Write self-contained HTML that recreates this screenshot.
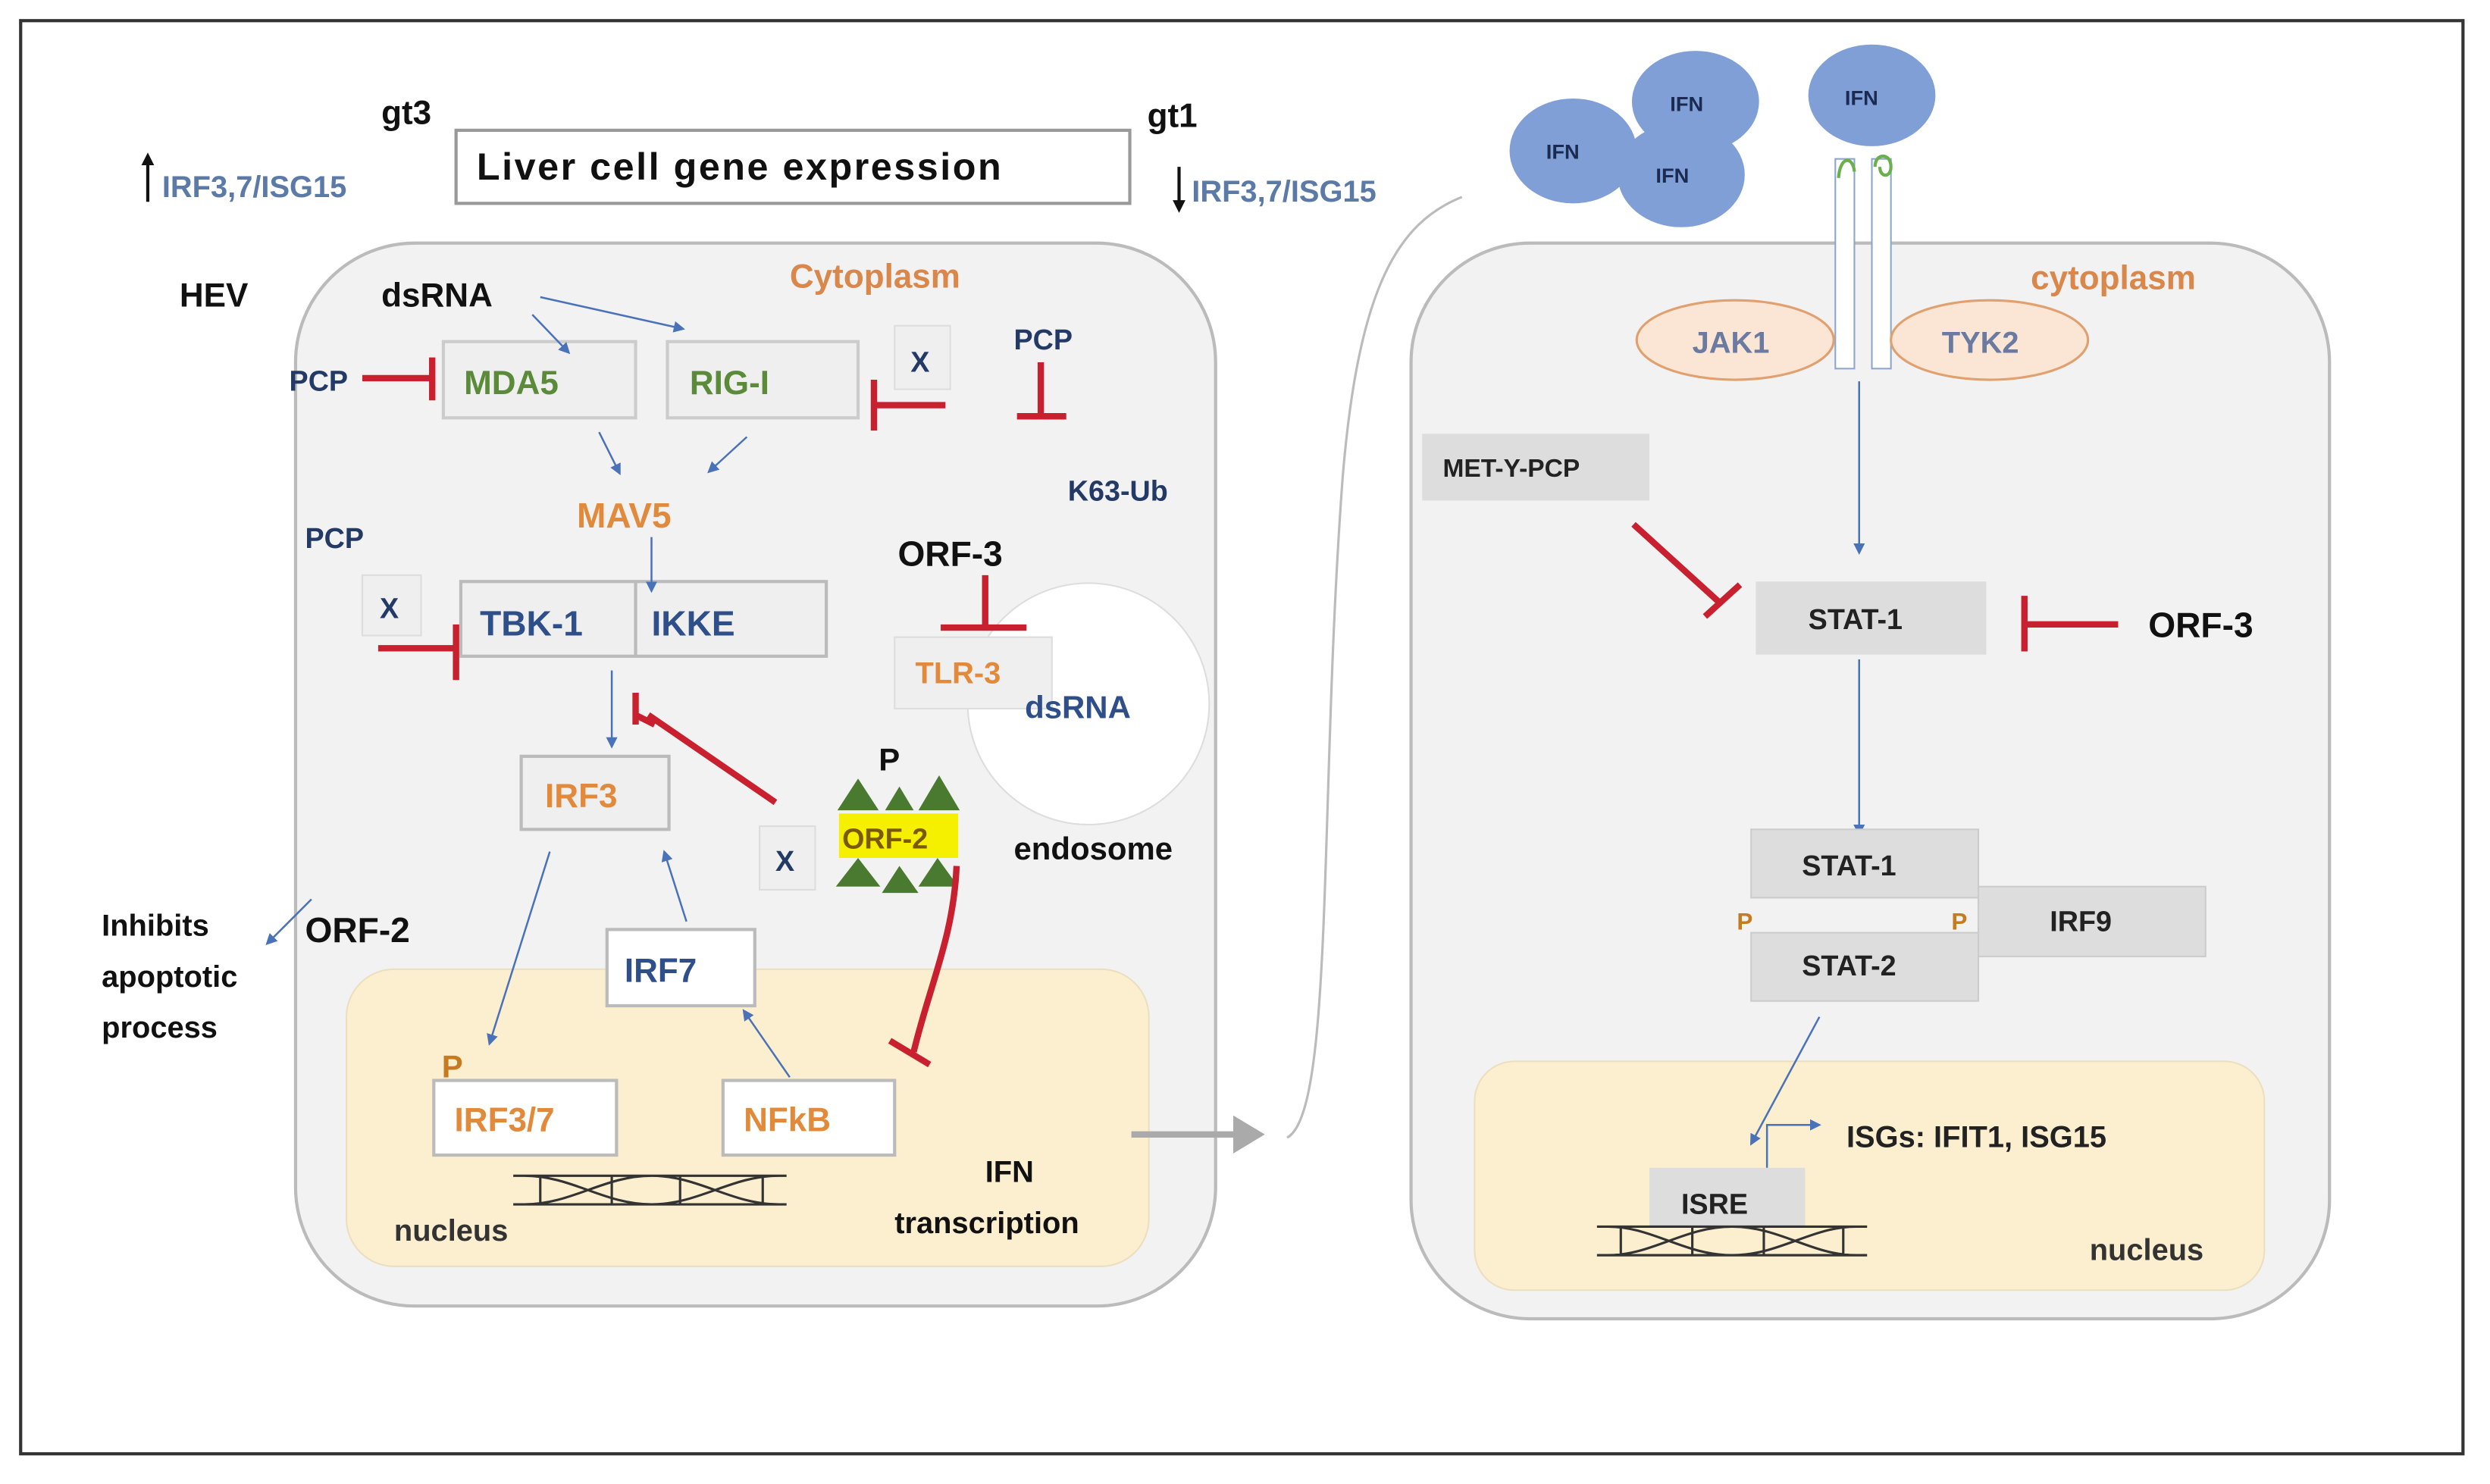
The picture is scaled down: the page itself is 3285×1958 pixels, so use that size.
<!DOCTYPE html>
<html><head><meta charset="utf-8"><style>
html,body{margin:0;padding:0;background:#fff}
svg{display:block}
text{font-family:"Liberation Sans",sans-serif;font-weight:bold}
</style></head><body>
<svg width="3285" height="1958" viewBox="0 0 1567 934" preserveAspectRatio="none" xmlns="http://www.w3.org/2000/svg">
<defs>
<marker id="ab" markerWidth="6" markerHeight="6" refX="5" refY="3" orient="auto"><path d="M0,0 L6,3 L0,6 z" fill="#4a72b8"/></marker>
<marker id="ag" markerWidth="5" markerHeight="6" refX="4" refY="3" orient="auto"><path d="M0,0 L5,3 L0,6 z" fill="#aaa"/></marker>
</defs>
<rect x="13" y="13" width="1537" height="902" fill="#fff" stroke="#333" stroke-width="2"/>
<!-- top -->
<rect x="287" y="82" width="424" height="46" fill="#fff" stroke="#999" stroke-width="2"/>
<text x="300" y="113" font-size="24" fill="#111" textLength="330">Liver cell gene expression</text>
<text x="240" y="78" font-size="21" fill="#111">gt3</text>
<text x="722" y="80" font-size="21" fill="#111">gt1</text>
<line x1="93" y1="127" x2="93" y2="102" stroke="#111" stroke-width="2"/><path d="M89,104 L93,96 L97,104z" fill="#111"/>
<text x="102" y="124" font-size="19" fill="#5b7aa8" font-weight="normal">IRF3,7/ISG15</text>
<line x1="742" y1="105" x2="742" y2="128" stroke="#111" stroke-width="2"/><path d="M738,126 L742,134 L746,126z" fill="#111"/>
<text x="750" y="127" font-size="19" fill="#5b7aa8" font-weight="normal">IRF3,7/ISG15</text>
<!-- left cell -->
<rect x="186" y="153" width="579" height="669" rx="75" fill="#f2f2f2" stroke="#bbb" stroke-width="2"/>
<rect x="218" y="610" width="505" height="187" rx="30" fill="#fcefcf" stroke="#eadfbf"/>
<circle cx="685" cy="443" r="76" fill="#fff" stroke="#ddd"/>
<text x="497" y="181" font-size="21" fill="#d9874a" font-weight="normal">Cytoplasm</text>
<text x="113" y="193" font-size="21" fill="#111">HEV</text>
<text x="240" y="193" font-size="21" fill="#111">dsRNA</text>
<rect x="279" y="215" width="121" height="48" fill="#efefef" stroke="#ccc" stroke-width="2"/>
<text x="292" y="248" font-size="21" fill="#5a8a3a">MDA5</text>
<rect x="420" y="215" width="120" height="48" fill="#efefef" stroke="#ccc" stroke-width="2"/>
<text x="434" y="248" font-size="21" fill="#5a8a3a">RIG-I</text>
<line x1="340" y1="187" x2="430" y2="207" stroke="#4a72b8" stroke-width="1.2" marker-end="url(#ab)"/>
<line x1="335" y1="198" x2="358" y2="222" stroke="#4a72b8" stroke-width="1.2" marker-end="url(#ab)"/>
<rect x="563" y="205" width="35" height="40" fill="#efefef" stroke="#ddd"/>
<text x="573" y="234" font-size="18" fill="#233a66">X</text>
<text x="182" y="246" font-size="18" fill="#233a66">PCP</text>
<text x="638" y="220" font-size="18" fill="#233a66">PCP</text>
<line x1="377" y1="272" x2="390" y2="298" stroke="#4a72b8" stroke-width="1.2" marker-end="url(#ab)"/>
<line x1="470" y1="275" x2="446" y2="297" stroke="#4a72b8" stroke-width="1.2" marker-end="url(#ab)"/>
<text x="363" y="332" font-size="22" fill="#e28a3c">MAV5</text>
<text x="672" y="315" font-size="18" fill="#233a66">K63-Ub</text>
<text x="192" y="345" font-size="18" fill="#233a66">PCP</text>
<rect x="228" y="362" width="37" height="38" fill="#efefef" stroke="#ddd"/>
<text x="239" y="389" font-size="18" fill="#233a66">X</text>
<rect x="290" y="366" width="230" height="47" fill="#efefef" stroke="#bbb" stroke-width="2"/>
<line x1="400" y1="366" x2="400" y2="413" stroke="#bbb" stroke-width="2"/>
<line x1="410" y1="338" x2="410" y2="372" stroke="#4a72b8" stroke-width="1.2" marker-end="url(#ab)"/>
<text x="302" y="400" font-size="22" fill="#2f4f8a">TBK-1</text>
<text x="410" y="400" font-size="22" fill="#2f4f8a">IKKE</text>
<text x="565" y="356" font-size="22" fill="#111">ORF-3</text>
<rect x="563" y="401" width="99" height="45" fill="#efefef" stroke="#ddd"/>
<text x="576" y="430" font-size="19" fill="#e28a3c">TLR-3</text>
<text x="645" y="452" font-size="20" fill="#2f4f8a" font-weight="normal">dsRNA</text>
<line x1="385" y1="422" x2="385" y2="470" stroke="#4a72b8" stroke-width="1.2" marker-end="url(#ab)"/>
<rect x="328" y="476" width="93" height="46" fill="#efefef" stroke="#bbb" stroke-width="2"/>
<text x="343" y="508" font-size="21" fill="#e28a3c">IRF3</text>
<text x="553" y="485" font-size="20" fill="#111">P</text>
<g fill="#4a7a2f">
<path d="M527,510 L540,490 L553,510z"/><path d="M557,510 L566,495 L575,510z"/><path d="M578,510 L591,488 L604,510z"/>
<path d="M526,558 L540,540 L554,558z"/><path d="M555,562 L566,545 L578,562z"/><path d="M578,558 L590,540 L603,558z"/>
</g>
<rect x="528" y="512" width="75" height="28" fill="#f5f000"/>
<text x="530" y="534" font-size="18" fill="#7a5a00">ORF-2</text>
<rect x="478" y="520" width="35" height="40" fill="#efefef" stroke="#ddd"/>
<text x="488" y="548" font-size="18" fill="#233a66">X</text>
<text x="638" y="541" font-size="20" fill="#111">endosome</text>
<text x="64" y="589" font-size="19" fill="#111">Inhibits</text>
<text x="64" y="621" font-size="19" fill="#111">apoptotic</text>
<text x="64" y="653" font-size="19" fill="#111">process</text>
<text x="192" y="593" font-size="22" fill="#111">ORF-2</text>
<line x1="196" y1="566" x2="168" y2="594" stroke="#4a72b8" stroke-width="1.2" marker-end="url(#ab)"/>
<line x1="346" y1="536" x2="308" y2="657" stroke="#4a72b8" stroke-width="1.2" marker-end="url(#ab)"/>
<line x1="432" y1="580" x2="418" y2="536" stroke="#4a72b8" stroke-width="1.2" marker-end="url(#ab)"/>
<line x1="497" y1="678" x2="468" y2="636" stroke="#4a72b8" stroke-width="1.2" marker-end="url(#ab)"/>
<rect x="382" y="585" width="93" height="48" fill="#fff" stroke="#bbb" stroke-width="2"/>
<text x="393" y="618" font-size="21" fill="#2f4f8a">IRF7</text>
<text x="278" y="678" font-size="20" fill="#c87a20">P</text>
<rect x="273" y="680" width="115" height="47" fill="#fff" stroke="#bbb" stroke-width="2"/>
<text x="286" y="712" font-size="21" fill="#e28a3c">IRF3/7</text>
<rect x="455" y="680" width="108" height="47" fill="#fff" stroke="#bbb" stroke-width="2"/>
<text x="468" y="712" font-size="21" fill="#e28a3c">NFkB</text>
<g stroke="#333" stroke-width="1.5" fill="none">
<path d="M323,740 L495,740 M323,758 L495,758 M330,740 C360,740 380,758 410,758 M330,758 C360,758 380,740 410,740 M410,740 C440,740 460,758 490,758 M410,758 C440,758 460,740 490,740 M340,740 V758 M385,740 V758 M428,740 V758 M480,740 V758"/>
</g>
<text x="248" y="781" font-size="19" fill="#333" font-weight="normal">nucleus</text>
<text x="620" y="744" font-size="19" fill="#111">IFN</text>
<text x="563" y="776" font-size="19" fill="#111">transcription</text>
<line x1="712" y1="714" x2="792" y2="714" stroke="#aaa" stroke-width="4" marker-end="url(#ag)"/>
<path d="M810,716 C840,700 830,500 845,300 C855,180 880,140 920,124" stroke="#bbb" stroke-width="1.5" fill="none"/>
<!-- right cell -->
<rect x="888" y="153" width="578" height="677" rx="75" fill="#f2f2f2" stroke="#bbb" stroke-width="2"/>
<rect x="928" y="668" width="497" height="144" rx="25" fill="#fcefcf" stroke="#eadfbf"/>
<text x="1278" y="182" font-size="21" fill="#d9874a" font-weight="normal">cytoplasm</text>
<g fill="#7f9fd6">
<ellipse cx="990" cy="95" rx="40" ry="33"/><ellipse cx="1067" cy="64" rx="40" ry="32"/><ellipse cx="1058" cy="110" rx="40" ry="33"/><ellipse cx="1178" cy="60" rx="40" ry="32"/>
</g>
<g font-size="13" fill="#1a2a50"><text x="973" y="100">IFN</text><text x="1051" y="70">IFN</text><text x="1042" y="115">IFN</text><text x="1161" y="66">IFN</text></g>
<rect x="1155" y="100" width="12" height="132" fill="#fff" stroke="#8fa6cc"/>
<rect x="1178" y="100" width="12" height="132" fill="#fff" stroke="#8fa6cc"/>
<path d="M1157,112 C1158,98 1166,98 1167,108 M1180,105 C1180,96 1190,96 1190,105 C1190,112 1183,112 1183,105" stroke="#6ab04c" stroke-width="2" fill="none"/>
<ellipse cx="1092" cy="214" rx="62" ry="25" fill="#fbe6d6" stroke="#e0a070" stroke-width="1.5"/>
<ellipse cx="1252" cy="214" rx="62" ry="25" fill="#fbe6d6" stroke="#e0a070" stroke-width="1.5"/>
<text x="1065" y="222" font-size="19" fill="#6a7aa0" font-weight="normal">JAK1</text>
<text x="1222" y="222" font-size="19" fill="#6a7aa0" font-weight="normal">TYK2</text>
<rect x="895" y="273" width="143" height="42" fill="#ddd"/>
<text x="908" y="300" font-size="16" fill="#222">MET-Y-PCP</text>
<line x1="1170" y1="240" x2="1170" y2="348" stroke="#4a72b8" stroke-width="1.2" marker-end="url(#ab)"/>
<rect x="1105" y="366" width="145" height="46" fill="#ddd"/>
<text x="1138" y="396" font-size="18" fill="#222">STAT-1</text>
<text x="1352" y="401" font-size="22" fill="#111">ORF-3</text>
<line x1="1170" y1="415" x2="1170" y2="525" stroke="#4a72b8" stroke-width="1.2" marker-end="url(#ab)"/>
<rect x="1245" y="558" width="143" height="44" fill="#ddd" stroke="#ccc"/>
<text x="1290" y="586" font-size="18" fill="#222">IRF9</text>
<rect x="1102" y="522" width="143" height="43" fill="#ddd" stroke="#ccc"/>
<text x="1134" y="551" font-size="18" fill="#222">STAT-1</text>
<rect x="1102" y="587" width="143" height="43" fill="#ddd" stroke="#ccc"/>
<text x="1134" y="614" font-size="18" fill="#222">STAT-2</text>
<text x="1093" y="585" font-size="15" fill="#c87a20">P</text>
<text x="1228" y="585" font-size="15" fill="#c87a20">P</text>
<line x1="1145" y1="640" x2="1102" y2="720" stroke="#4a72b8" stroke-width="1.2" marker-end="url(#ab)"/>
<path d="M1112,735 V708 H1145" stroke="#4a72b8" stroke-width="1.2" fill="none" marker-end="url(#ab)"/>
<text x="1162" y="722" font-size="19" fill="#222">ISGs: IFIT1, ISG15</text>
<rect x="1038" y="735" width="98" height="37" fill="#ddd"/>
<text x="1058" y="764" font-size="18" fill="#222">ISRE</text>
<g stroke="#333" stroke-width="1.5" fill="none">
<path d="M1005,772 L1175,772 M1005,790 L1175,790 M1012,772 C1040,772 1060,790 1090,790 M1012,790 C1040,790 1060,772 1090,772 M1090,772 C1120,772 1140,790 1168,790 M1090,790 C1120,790 1140,772 1168,772 M1020,772 V790 M1065,772 V790 M1110,772 V790 M1160,772 V790"/>
</g>
<text x="1315" y="793" font-size="19" fill="#333" font-weight="normal">nucleus</text>
<!-- inhibitors on top -->
<g stroke="#c8202e" stroke-width="4" fill="none">
<line x1="228" y1="238" x2="272" y2="238"/><line x1="272" y1="225" x2="272" y2="252"/>
<line x1="595" y1="255" x2="550" y2="255"/><line x1="550" y1="239" x2="550" y2="271"/>
<line x1="655" y1="228" x2="655" y2="262"/><line x1="640" y1="262" x2="671" y2="262"/>
<line x1="238" y1="408" x2="287" y2="408"/><line x1="287" y1="393" x2="287" y2="428"/>
<line x1="620" y1="362" x2="620" y2="394"/><line x1="592" y1="395" x2="646" y2="395"/>
<line x1="488" y1="505" x2="408" y2="450"/><line x1="400" y1="436" x2="400" y2="456"/><line x1="400" y1="450" x2="412" y2="456"/>
<path d="M602,545 C600,590 585,620 575,662"/><line x1="560" y1="655" x2="585" y2="670"/>
<line x1="1028" y1="330" x2="1083" y2="380"/><line x1="1073" y1="388" x2="1095" y2="368"/>
<line x1="1333" y1="393" x2="1274" y2="393"/><line x1="1274" y1="375" x2="1274" y2="410"/>
</g>
</svg>
</body></html>
